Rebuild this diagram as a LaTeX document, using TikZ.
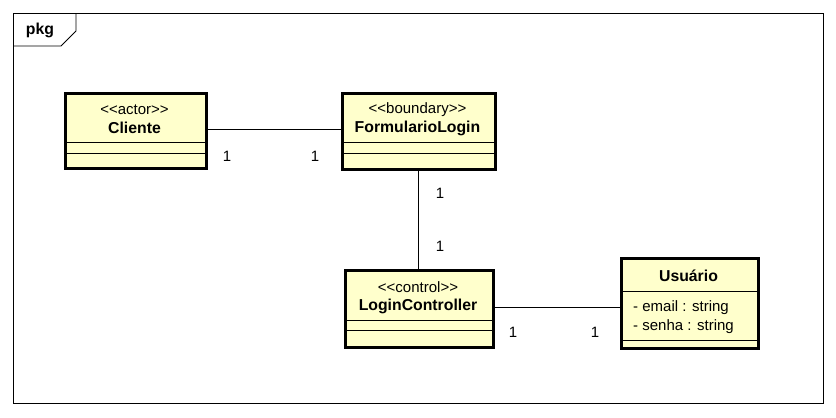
\documentclass[tikz,border=0pt]{standalone}
\usepackage{fontspec}
\newfontfamily\umlfont{Liberation Sans}
\definecolor{classfill}{RGB}{255,255,204}
\begin{document}
\begin{tikzpicture}[x=1pt,y=-1pt,
  klass/.style={draw, line width=2.6pt, fill=classfill, inner sep=0pt, anchor=north west},
  txt/.style={font=\umlfont\fontsize{15}{17}\selectfont, inner sep=0pt},
  btxt/.style={font=\umlfont\fontsize{15.8}{17}\selectfont\bfseries, inner sep=0pt},
  mult/.style={font=\umlfont\fontsize{15}{17}\selectfont, inner sep=0pt}]
\useasboundingbox (0,0) rectangle (836,418);
% frame
\draw[line width=0.8pt] (13,13) rectangle (823,403);
\draw[line width=0.8pt] (13,46) -- (61,46) -- (76,31) -- (76,13);
\node[btxt] (pkg) at (40,30){pkg};
% classes
\node[klass, minimum width=141, minimum height=75] (cliente) at (64,92){};
\node[klass, minimum width=153, minimum height=76] (form) at (341,92){};
\node[klass, minimum width=148, minimum height=77] (ctrl) at (344,269){};
\node[klass, minimum width=137, minimum height=90] (usuario) at (620,257){};
\draw[line width=0.8pt] ([yshift=-50pt]cliente.north west) -- ([yshift=-50pt]cliente.north east);
\draw[line width=0.8pt] ([yshift=-61pt]cliente.north west) -- ([yshift=-61pt]cliente.north east);
\draw[line width=0.8pt] ([yshift=-50pt]form.north west) -- ([yshift=-50pt]form.north east);
\draw[line width=0.8pt] ([yshift=-61pt]form.north west) -- ([yshift=-61pt]form.north east);
\draw[line width=0.8pt] ([yshift=-51pt]ctrl.north west) -- ([yshift=-51pt]ctrl.north east);
\draw[line width=0.8pt] ([yshift=-61pt]ctrl.north west) -- ([yshift=-61pt]ctrl.north east);
\draw[line width=0.8pt] ([yshift=-34pt]usuario.north west) -- ([yshift=-34pt]usuario.north east);
\draw[line width=0.8pt] ([yshift=-83pt]usuario.north west) -- ([yshift=-83pt]usuario.north east);
\node[txt] (clienteS) at (134.5,110){<<actor>>};
\node[btxt] (clienteN) at (134.5,128){Cliente};
\node[txt] (formS) at (417.5,110){<<boundary>>};
\node[btxt] (formN) at (417.5,128){FormularioLogin};
\node[txt] (ctrlS) at (418,287){<<control>>};
\node[btxt] (ctrlN) at (418,306){LoginController};
\node[btxt] (usuarioN) at (688.5,276){Usuário};
\node[txt, anchor=west] (email) at (633,308){- email : string};
\node[txt, anchor=west] (senha) at (633,327){- senha : string};
% associations
\draw[line width=0.8pt] (cliente.east |- 0,129) -- (form.west |- 0,129);
\draw[line width=0.8pt] (form.south) -- (form.south |- ctrl.north);
\draw[line width=0.8pt] (ctrl.east |- 0,307) -- (usuario.west |- 0,307);
\node[mult] (m1) at (227,156){1};
\node[mult] (m2) at (315,156){1};
\node[mult] (m3) at (440,193){1};
\node[mult] (m4) at (440,246){1};
\node[mult] (m5) at (513,332){1};
\node[mult] (m6) at (595,332){1};

\end{tikzpicture}
\end{document}
